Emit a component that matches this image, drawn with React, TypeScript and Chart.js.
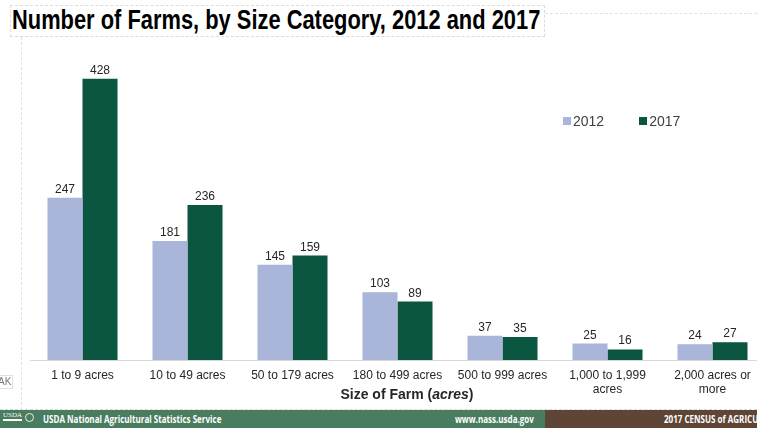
import React, { useEffect, useRef } from "react";
import { Chart, registerables } from "chart.js";

Chart.register(...registerables);

const categories: (string | string[])[] = [
  "1 to 9 acres",
  "10 to 49 acres",
  "50 to 179 acres",
  "180 to 499 acres",
  "500 to 999 acres",
  ["1,000 to 1,999", "acres"],
  ["2,000 acres or", "more"],
];
const values2012 = [247, 181, 145, 103, 37, 25, 24];
const values2017 = [428, 236, 159, 89, 35, 16, 27];
const seriesNames = ["2012", "2017"];
const seriesColors = ["#a9b5d9", "#0b5641"];

const FONT = '"Liberation Sans", Arial, Helvetica, sans-serif';

const valueLabels = {
  id: "valueLabels",
  afterDatasetsDraw(chart: any) {
    const ctx = chart.ctx;
    ctx.save();
    ctx.font = `12px ${FONT}`;
    ctx.fillStyle = "#262626";
    ctx.textAlign = "center";
    ctx.textBaseline = "alphabetic";
    chart.data.datasets.forEach((ds: any, i: number) => {
      const meta = chart.getDatasetMeta(i);
      meta.data.forEach((bar: any, j: number) => {
        ctx.fillText(String(ds.data[j]), bar.x, bar.y - 5);
      });
    });
    ctx.restore();
  },
};

const footerText: React.CSSProperties = {
  position: "absolute",
  top: 410,
  fontSize: 11,
  fontWeight: "bold",
  color: "#fff",
  fontFamily: '"Open Sans", sans-serif',
  lineHeight: "18px",
  whiteSpace: "nowrap",
  transform: "scaleX(0.73)",
  transformOrigin: "0 0",
};

export default function App() {
  const ref = useRef<HTMLCanvasElement | null>(null);

  useEffect(() => {
    if (!ref.current) return;
    const chart = new Chart(ref.current, {
      type: "bar",
      data: {
        labels: categories,
        datasets: [
          {
            label: seriesNames[0],
            data: values2012,
            backgroundColor: seriesColors[0],
            barPercentage: 1,
            categoryPercentage: 0.667,
          },
          {
            label: seriesNames[1],
            data: values2017,
            backgroundColor: seriesColors[1],
            barPercentage: 1,
            categoryPercentage: 0.667,
          },
        ],
      },
      options: {
        responsive: false,
        animation: false,
        layout: { padding: { left: 30, right: 35, top: 65, bottom: 28 } },
        plugins: {
          legend: { display: false },
          tooltip: { enabled: false },
          title: { display: false },
        },
        scales: {
          x: {
            grid: { display: false, drawTicks: false },
            border: { display: true, color: "#d9d9d9", width: 1 },
            ticks: {
              color: "#262626",
              font: { family: FONT, size: 12 },
              padding: 8,
              maxRotation: 0,
              autoSkip: false,
            },
            afterFit: (scale: any) => {
              scale.height = 40;
            },
          },
          y: {
            display: false,
            min: 0,
            max: 449,
          },
        },
      },
      plugins: [valueLabels],
    });
    return () => chart.destroy();
  }, []);

  return (
    <div
      style={{
        position: "fixed",
        left: 0,
        top: 0,
        width: 757,
        height: 428,
        overflow: "hidden",
        background: "#fff",
        fontFamily: FONT,
      }}
    >
      {/* title box */}
      <div
        style={{
          position: "absolute",
          left: 10,
          top: 5,
          width: 535,
          height: 32,
          border: "1px dashed #dcdcdc",
          boxSizing: "border-box",
        }}
      />
      <div
        style={{
          position: "absolute",
          left: 545,
          top: 13,
          width: 212,
          borderTop: "1px dashed #e2e2e2",
        }}
      />
      <div
        style={{
          position: "absolute",
          left: 21,
          top: 37,
          height: 373,
          borderLeft: "1px dashed #e2e2e2",
        }}
      />
      <div
        style={{
          position: "absolute",
          left: 12,
          top: 4,
          whiteSpace: "nowrap",
          fontSize: 27,
          fontWeight: "bold",
          color: "#000",
          transform: "scaleX(0.81)",
          transformOrigin: "0 0",
          lineHeight: "32px",
        }}
      >
        Number of Farms, by Size Category, 2012 and 2017
      </div>

      <canvas
        ref={ref}
        width={800}
        height={428}
        style={{ position: "absolute", left: 0, top: 0, width: 800, height: 428 }}
      />

      {/* legend */}
      <div
        style={{
          position: "absolute",
          left: 563,
          top: 112,
          display: "flex",
          alignItems: "center",
          fontSize: 14,
          color: "#404040",
          lineHeight: "18px",
        }}
      >
        {seriesNames.map((n, i) => (
          <div key={n} style={{ display: "flex", alignItems: "center", marginRight: i === 0 ? 35 : 0 }}>
            <span style={{ width: 8, height: 8, background: seriesColors[i], display: "inline-block", marginRight: 2 }} />
            <span>{n}</span>
          </div>
        ))}
      </div>

      {/* x axis title */}
      <div
        style={{
          position: "absolute",
          left: 257,
          width: 300,
          top: 385,
          textAlign: "center",
          fontSize: 14,
          fontWeight: "bold",
          color: "#262626",
          lineHeight: "18px",
        }}
      >
        Size of Farm (<i>acres</i>)
      </div>

      {/* AK tag */}
      <div
        style={{
          position: "absolute",
          left: -4,
          top: 375,
          fontSize: 10,
          color: "#777",
          border: "1px solid #e0e0e0",
          padding: "0 1px",
          lineHeight: "12px",
        }}
      >
        AK
      </div>

      {/* footer */}
      <div
        style={{
          position: "absolute",
          left: 0,
          top: 409,
          width: 757,
          borderTop: "1px dashed #d8d8d8",
        }}
      />
      <div
        style={{
          position: "absolute",
          left: 0,
          top: 410,
          width: 545,
          height: 18,
          background: "#4a7c60",
        }}
      />
      <div
        style={{
          position: "absolute",
          left: 545,
          top: 410,
          width: 212,
          height: 18,
          background: "#5e4536",
        }}
      />
      <div
        style={{
          position: "absolute",
          left: 3,
          top: 411,
          fontSize: 7,
          color: "#fff",
          fontFamily: '"Liberation Serif", serif',
          lineHeight: "8px",
          borderBottom: "2px solid #fff",
        }}
      >
        USDA
      </div>
      <div
        style={{
          position: "absolute",
          left: 25,
          top: 413,
          width: 9,
          height: 9,
          borderRadius: "50%",
          border: "1.5px solid #e8efe9",
          boxSizing: "border-box",
        }}
      />
      <div style={{ ...footerText, left: 43 }}>USDA National Agricultural Statistics Service</div>
      <div style={{ ...footerText, left: 455 }}>www.nass.usda.gov</div>
      <div style={{ ...footerText, left: 664 }}>2017 CENSUS of AGRICULTURE</div>
    </div>
  );
}
